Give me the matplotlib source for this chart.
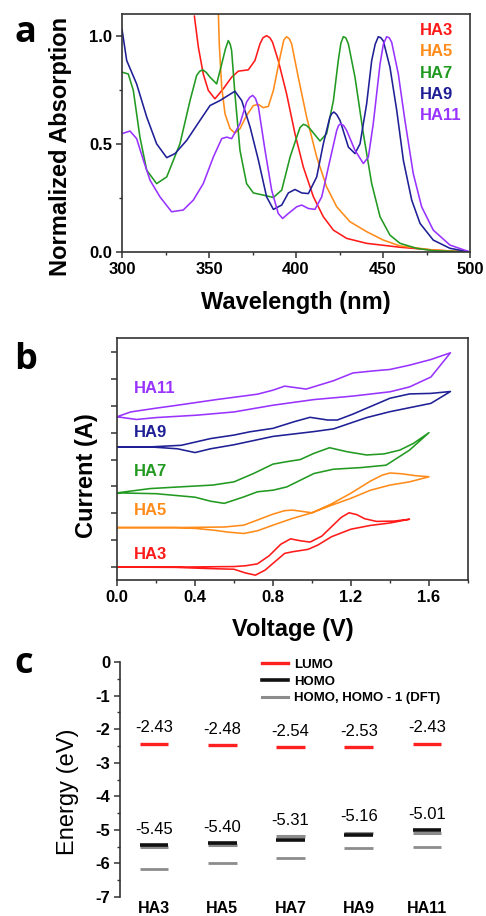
import matplotlib
matplotlib.use("Agg")
import matplotlib.pyplot as plt
from matplotlib.lines import Line2D
from matplotlib.ticker import MultipleLocator

plt.rcParams['font.family'] = ['Liberation Sans', 'DejaVu Sans']
plt.rcParams['axes.unicode_minus'] = False

names = ['HA3', 'HA5', 'HA7', 'HA9', 'HA11']
colors = ['#FF1A1A', '#FF8C1A', '#229A22', '#1F1F96', '#9933FF']

# ---- panel a: normalized absorption spectra
wl_ha3 = [341.6, 343.9, 346.7, 349.6, 353.4, 358.2, 363.0, 366.9, 372.6, 376.4, 379.3, 381.0,
          383.1, 385.0, 386.5, 389.8, 394.6, 399.4, 404.2, 410.0, 415.7, 421.5, 429.1, 440.6,
          459.8, 478.9, 500.0]
ab_ha3 = [1.09, 0.946, 0.823, 0.747, 0.708, 0.754, 0.808, 0.836, 0.842, 0.885, 0.962, 0.99,
          1.0, 0.99, 0.97, 0.885, 0.731, 0.547, 0.393, 0.255, 0.163, 0.101, 0.063, 0.040,
          0.022, 0.009, 0.0]

wl_ha5 = [355.4, 355.9, 357.3, 359.2, 362.1, 364.9, 367.8, 371.6, 375.5, 378.4, 381.2, 384.1,
          387.0, 390.8, 393.0, 394.6, 396.2, 397.5, 401.3, 406.1, 411.9, 417.6, 423.4, 431.0,
          440.6, 450.2, 459.8, 478.9, 500.0]
ab_ha5 = [1.10, 0.962, 0.762, 0.639, 0.570, 0.550, 0.570, 0.631, 0.677, 0.682, 0.667, 0.673,
          0.747, 0.900, 0.98, 0.995, 0.985, 0.962, 0.808, 0.624, 0.439, 0.301, 0.209, 0.140,
          0.094, 0.055, 0.028, 0.009, 0.0]

wl_ha7 = [300.0, 303.6, 306.5, 310.3, 314.2, 319.9, 325.7, 333.3, 339.1, 342.9, 344.6, 346.4,
          348.4, 350.6, 354.4, 357.3, 359.5, 361.1, 362.2, 363.0, 364.9, 367.8, 371.6, 375.5,
          381.2, 387.0, 391.8, 396.6, 400.4, 402.3, 404.2, 406.0, 408.0, 413.8, 417.6, 421.5,
          424.3, 425.8, 427.2, 428.6, 430.1, 433.9, 438.7, 443.5, 448.3, 454.0, 459.8, 469.3,
          478.9, 500.0]
ab_ha7 = [0.831, 0.823, 0.747, 0.531, 0.378, 0.316, 0.347, 0.500, 0.700, 0.816, 0.835, 0.842,
          0.83, 0.808, 0.777, 0.869, 0.94, 0.977, 0.96, 0.931, 0.731, 0.470, 0.316, 0.273,
          0.263, 0.252, 0.286, 0.439, 0.531, 0.575, 0.590, 0.585, 0.570, 0.513, 0.547, 0.700,
          0.885, 0.965, 0.995, 0.99, 0.962, 0.808, 0.547, 0.316, 0.163, 0.078, 0.040, 0.017,
          0.006, 0.0]

wl_ha9 = [300.0, 302.7, 308.4, 314.2, 319.9, 325.7, 330.5, 337.2, 344.8, 350.6, 356.3, 361.1,
          364.9, 368.8, 373.6, 378.4, 383.1, 387.0, 391.8, 395.6, 399.4, 403.3, 407.1, 411.9,
          415.7, 419.5, 420.6, 421.8, 423.4, 425.3, 430.1, 433.9, 436.8, 440.6, 443.5, 445.5,
          447.3, 448.8, 450.2, 454.0, 457.9, 461.7, 466.5, 471.3, 478.9, 488.5, 500.0]
ab_ha9 = [1.03, 0.885, 0.777, 0.624, 0.500, 0.436, 0.455, 0.516, 0.608, 0.677, 0.700, 0.724,
          0.743, 0.700, 0.578, 0.424, 0.255, 0.197, 0.217, 0.273, 0.289, 0.273, 0.270, 0.347,
          0.500, 0.624, 0.640, 0.647, 0.635, 0.608, 0.485, 0.455, 0.500, 0.685, 0.885, 0.96,
          0.995, 0.99, 0.975, 0.854, 0.654, 0.424, 0.240, 0.132, 0.055, 0.017, 0.0]

wl_ha11 = [300.0, 304.6, 308.4, 312.3, 316.1, 321.8, 328.5, 335.2, 341.0, 346.7, 352.5, 357.3,
           360.2, 363.0, 367.8, 371.6, 373.4, 375.1, 376.7, 378.4, 382.2, 386.0, 389.8, 392.3,
           395.6, 400.4, 403.3, 407.1, 410.9, 414.8, 419.5, 423.4, 424.5, 425.7, 427.3, 429.1,
           433.9, 438.7, 441.6, 444.4, 448.3, 450.2, 452.1, 453.6, 455.0, 458.8, 462.6, 467.4,
           472.2, 478.9, 488.5, 500.0]
ab_ha11 = [0.547, 0.559, 0.524, 0.424, 0.332, 0.255, 0.186, 0.194, 0.240, 0.316, 0.439, 0.524,
           0.531, 0.524, 0.593, 0.693, 0.715, 0.724, 0.71, 0.670, 0.470, 0.286, 0.178, 0.155,
           0.178, 0.209, 0.217, 0.201, 0.197, 0.255, 0.424, 0.562, 0.585, 0.593, 0.585, 0.562,
           0.470, 0.409, 0.439, 0.593, 0.869, 0.96, 0.995, 0.99, 0.969, 0.823, 0.608, 0.362,
           0.209, 0.101, 0.032, 0.0]

# ---- panel b: cyclic voltammograms, loop order (forward then reverse), offset units
v_ha3 = [0.0, 0.3, 0.6, 0.66, 0.72, 0.78, 0.84, 0.89, 0.94, 0.99, 1.05, 1.1, 1.15, 1.19, 1.23,
         1.27, 1.33, 1.42, 1.5,
         1.4, 1.3, 1.2, 1.1, 1.03, 0.98, 0.9, 0.86, 0.8, 0.76, 0.71, 0.66, 0.6, 0.45, 0.3, 0.0]
i_ha3 = [0.0, 0.0, 0.02, 0.05, 0.12, 0.42, 0.85, 1.05, 0.98, 0.93, 1.15, 1.5, 1.85, 2.02, 1.95,
         1.8, 1.7, 1.71, 1.78,
         1.64, 1.55, 1.41, 1.13, 0.82, 0.66, 0.57, 0.51, 0.14, -0.11, -0.3, -0.22, -0.08, -0.05,
         -0.01, 0.0]

v_ha5 = [0.0, 0.3, 0.55, 0.65, 0.72, 0.8, 0.86, 0.9, 0.95, 1.0, 1.1, 1.2, 1.3, 1.36, 1.4, 1.46,
         1.53, 1.6,
         1.5, 1.4, 1.3, 1.2, 1.1, 1.0, 0.9, 0.8, 0.72, 0.65, 0.57, 0.5, 0.4, 0.3, 0.0]
i_ha5 = [1.47, 1.47, 1.49, 1.56, 1.75, 1.97, 2.1, 2.12, 2.07, 2.02, 2.35, 2.75, 3.2, 3.42, 3.5,
         3.47, 3.4, 3.36,
         3.17, 3.05, 2.86, 2.56, 2.3, 2.02, 1.81, 1.56, 1.35, 1.25, 1.3, 1.37, 1.44, 1.47, 1.47]

v_ha7 = [0.0, 0.17, 0.34, 0.49, 0.6, 0.7, 0.8, 0.87, 0.94, 1.01, 1.09, 1.18, 1.28, 1.37, 1.45,
         1.52, 1.6,
         1.5, 1.38, 1.25, 1.11, 1.01, 0.94, 0.87, 0.8, 0.72, 0.65, 0.55, 0.48, 0.4, 0.2, 0.0]
i_ha7 = [2.76, 2.92, 2.99, 3.05, 3.17, 3.48, 3.83, 3.92, 4.0, 4.23, 4.44, 4.29, 4.17, 4.21, 4.35,
         4.6, 5.0,
         4.35, 3.79, 3.7, 3.64, 3.48, 3.23, 2.98, 2.86, 2.8, 2.61, 2.37, 2.45, 2.6, 2.73, 2.76]

v_ha9 = [0.0, 0.17, 0.33, 0.48, 0.6, 0.68, 0.8, 0.91, 0.99, 1.08, 1.13, 1.21, 1.3, 1.4, 1.5,
         1.61, 1.71,
         1.61, 1.4, 1.28, 1.11, 1.01, 0.8, 0.6, 0.48, 0.4, 0.31, 0.17, 0.0]
i_ha9 = [4.47, 4.47, 4.53, 4.78, 4.91, 5.03, 5.16, 5.41, 5.57, 5.47, 5.47, 5.69, 5.97, 6.28, 6.44,
         6.46, 6.53,
         6.09, 5.78, 5.56, 5.14, 5.04, 4.86, 4.55, 4.4, 4.26, 4.4, 4.47, 4.47]

v_ha11 = [0.0, 0.07, 0.2, 0.31, 0.51, 0.72, 0.8, 0.86, 0.97, 1.11, 1.21, 1.32, 1.4, 1.5, 1.61,
          1.71,
          1.61, 1.5, 1.4, 1.21, 1.01, 0.8, 0.6, 0.41, 0.2, 0.1, 0.0]
i_ha11 = [5.59, 5.77, 5.91, 6.02, 6.23, 6.43, 6.58, 6.73, 6.62, 6.93, 7.22, 7.3, 7.35, 7.51, 7.72,
          7.97,
          7.07, 6.7, 6.52, 6.36, 6.23, 6.02, 5.77, 5.65, 5.56, 5.49, 5.59]

# ---- panel c: energy levels (eV)
lumo = [-2.43, -2.48, -2.54, -2.53, -2.43]
homo = [-5.45, -5.40, -5.31, -5.16, -5.01]
dft_homo = [-5.51, -5.44, -5.19, -5.09, -5.09]
dft_homo1 = [-6.18, -6.00, -5.83, -5.54, -5.51]

spectra = [(wl_ha3, ab_ha3), (wl_ha5, ab_ha5), (wl_ha7, ab_ha7), (wl_ha9, ab_ha9), (wl_ha11, ab_ha11)]
cvs = [(v_ha3, i_ha3), (v_ha5, i_ha5), (v_ha7, i_ha7), (v_ha9, i_ha9), (v_ha11, i_ha11)]
cv_label_y = [0.47, 2.12, 3.57, 5.0, 6.64]

spine_col = '#333333'
W, H = 486, 916
fig = plt.figure(figsize=(W / 100, H / 100), dpi=100)


def box(l, t, r, b):
    return [l / W, 1 - b / H, (r - l) / W, (b - t) / H]


def style_ax(ax):
    for s in ax.spines.values():
        s.set_color(spine_col)
        s.set_linewidth(1.2)
    ax.tick_params(which='major', direction='out', length=4, width=1.1, color=spine_col,
                   labelsize=12, pad=3)
    ax.tick_params(which='minor', direction='out', length=2.5, width=1.0, color=spine_col)


# panel a
ax1 = fig.add_axes(box(122, 14, 470, 252))
for (x, y), c in zip(spectra, colors):
    ax1.plot(x, y, color=c, lw=1.15, solid_joinstyle='round')
ax1.set_xlim(300, 500)
ax1.set_ylim(0, 1.1)
ax1.xaxis.set_major_locator(MultipleLocator(50))
ax1.xaxis.set_minor_locator(MultipleLocator(25))
ax1.yaxis.set_major_locator(MultipleLocator(0.5))
ax1.yaxis.set_minor_locator(MultipleLocator(0.25))
ax1.set_yticks([0, 0.5, 1.0])
ax1.set_yticklabels(['0.0', '0.5', '1.0'])
style_ax(ax1)
ax1.set_xlabel('Wavelength (nm)', fontsize=17, fontweight='bold')
ax1.set_ylabel('Normalized Absorption', fontsize=17, fontweight='bold')
ax1.xaxis.set_label_coords(0.5, -0.165)
ax1.yaxis.set_label_coords(-0.145, 0.445)
for k, (n, c) in enumerate(zip(names, colors)):
    ax1.text(0.855, 0.93 - k * 0.089, n, transform=ax1.transAxes, color=c,
             fontsize=12, fontweight='bold', va='center', ha='left')

# panel b
ax2 = fig.add_axes(box(117, 338, 468, 580))
for (x, y), c in zip(cvs, colors):
    ax2.plot(x, y, color=c, lw=1.15, solid_joinstyle='round')
for n, c, ly in zip(names, colors, cv_label_y):
    ax2.text(0.084, ly, n, color=c, fontsize=12, fontweight='bold', va='center', ha='left')
ax2.set_xlim(0, 1.8)
ax2.set_ylim(-0.48, 8.52)
ax2.xaxis.set_major_locator(MultipleLocator(0.4))
ax2.xaxis.set_minor_locator(MultipleLocator(0.2))
ax2.yaxis.set_major_locator(MultipleLocator(1))
ax2.set_xticks([0, 0.4, 0.8, 1.2, 1.6])
ax2.set_xticklabels(['0.0', '0.4', '0.8', '1.2', '1.6'])
ax2.set_yticklabels([])
style_ax(ax2)
ax2.set_xlabel('Voltage (V)', fontsize=17, fontweight='bold')
ax2.set_ylabel('Current (A)', fontsize=17, fontweight='bold')
ax2.xaxis.set_label_coords(0.5, -0.155)
ax2.yaxis.set_label_coords(-0.055, 0.432)

# panel c
ax3 = fig.add_axes(box(120, 662, 461, 897))
xs = range(len(names))
hw = 0.21
for k in xs:
    ax3.hlines(dft_homo[k], k - hw, k + hw, color='#8C8C8C', lw=2.2)
    ax3.hlines(dft_homo1[k], k - hw, k + hw, color='#8C8C8C', lw=2.0)
    ax3.hlines(homo[k], k - hw, k + hw, color='#111111', lw=2.6)
    ax3.hlines(lumo[k], k - hw, k + hw, color='#FF2020', lw=2.4)
    ax3.text(k, lumo[k] + 0.25, '%.2f' % lumo[k], ha='center', va='bottom', fontsize=12)
    top = max(homo[k], dft_homo[k])
    ax3.text(k, top + 0.25, '%.2f' % homo[k], ha='center', va='bottom', fontsize=12)
ax3.set_xlim(-0.5, 4.5)
ax3.set_ylim(-7, 0)
ax3.set_xticks(list(xs))
ax3.set_xticklabels(names)
ax3.set_yticks(range(-7, 1))
ax3.set_yticklabels([str(v) for v in range(-7, 1)])
ax3.yaxis.set_minor_locator(MultipleLocator(0.5))
for s in ['top', 'right', 'bottom']:
    ax3.spines[s].set_visible(False)
style_ax(ax3)
ax3.tick_params(axis='x', length=0, pad=3, labelsize=11.5)
ax3.set_ylabel('Energy (eV)', fontsize=17)
ax3.yaxis.set_label_coords(-0.12, 0.447)
handles = [Line2D([], [], color='#FF2020', lw=2.4),
           Line2D([], [], color='#111111', lw=2.6),
           Line2D([], [], color='#8C8C8C', lw=2.2)]
ax3.legend(handles, ['LUMO', 'HOMO', 'HOMO, HOMO - 1 (DFT)'], loc='upper left',
           bbox_to_anchor=(0.415, 1.015), frameon=False, handlelength=2.0, handletextpad=0.45,
           labelspacing=0.35, borderpad=0, borderaxespad=0,
           prop={'weight': 'bold', 'size': 9.5})

for ax in (ax1, ax2, ax3):
    for lab in ax.get_xticklabels() + ax.get_yticklabels():
        lab.set_fontweight('bold')

# panel letters
for letter, y in zip(['a', 'b', 'c'], [42, 369, 673]):
    fig.text(14 / W, 1 - y / H, letter, fontsize=26, fontweight='bold',
             family=['Open Sans', 'DejaVu Sans'], va='baseline', ha='left')

fig.savefig('out.png', dpi=100)
